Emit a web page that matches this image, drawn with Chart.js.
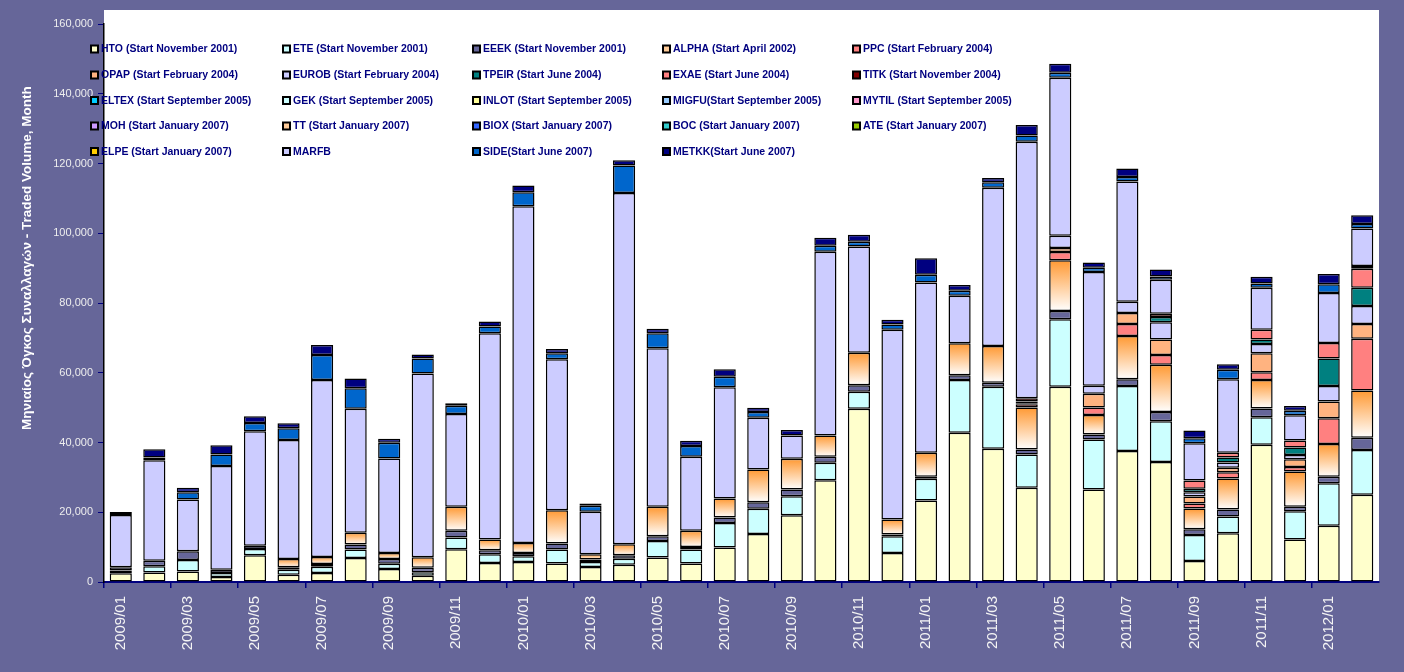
<!DOCTYPE html>
<html>
<head>
<meta charset="utf-8">
<title>Monthly traded volume</title>
<script src="https://cdn.jsdelivr.net/npm/chart.js@4.4.1/dist/chart.umd.min.js"></script>
<style>
  html, body { margin: 0; padding: 0; background: #666699; }
  #wrap { width: 1404px; height: 672px; }
</style>
</head>
<body>
<div id="wrap"><canvas id="volumeChart" width="1404" height="672"></canvas></div>
<script>
// months shown on the x axis (every second one gets a label)
const months = [
  "2009/01", "2009/02", "2009/03", "2009/04", "2009/05", "2009/06", "2009/07", "2009/08", "2009/09", "2009/10",
  "2009/11", "2009/12", "2010/01", "2010/02", "2010/03", "2010/04", "2010/05", "2010/06", "2010/07", "2010/08",
  "2010/09", "2010/10", "2010/11", "2010/12", "2011/01", "2011/02", "2011/03", "2011/04", "2011/05", "2011/06",
  "2011/07", "2011/08", "2011/09", "2011/10", "2011/11", "2011/12", "2012/01", "2012/02"
];

const yTicks = [0, 20000, 40000, 60000, 80000, 100000, 120000, 140000, 160000];
const yAxisTitle = "Μηνιαίος Όγκος Συναλλαγών - Traded Volume, Monthly";

// monthly volumes per underlying, bottom of the stack first
const HTO = [
  2500, 2700, 3000, 1440, 7650, 2100, 2590, 6900, 3730, 1800,
  9400, 5460, 5745, 5270, 4310, 4980, 6990, 5270, 9860, 13790,
  19150, 29200, 49690, 8330, 23360, 42800, 38200, 27000, 56010, 26500,
  37580, 34420, 6030, 13950, 39360, 12160, 16120, 25020
];
const ETE = [
  800, 1800, 3300, 1150, 1800, 1440, 1800, 2400, 1530, 1000,
  3350, 2490, 1630, 4020, 1440, 1720, 4790, 4020, 7090, 7180,
  5460, 4980, 4880, 4790, 6220, 15130, 17810, 9575, 19340, 14340,
  18590, 11670, 7420, 4850, 7910, 8110, 12160, 12860
];
const EEEK = [
  900, 1600, 2500, 950, 950, 670, 770, 1440, 1340, 1300,
  1915, 1150, 960, 1720, 670, 960, 1340, 770, 1530, 1915,
  1915, 1720, 1820, 480, 575, 1340, 1150, 1440, 2390, 1480,
  1980, 2670, 1680, 1980, 2470, 1290, 1880, 3460
];
const ALPHA = [
  0, 0, 0, 0, 0, 2400, 2000, 3350, 1720, 3000,
  6890, 3060, 2870, 9575, 1530, 3160, 8430, 4600, 5460, 9380,
  8810, 6130, 9380, 4310, 6890, 9190, 10530, 12000, 14500, 5540,
  12360, 13550, 5930, 8900, 8210, 10090, 9400, 13550
];
const PPC = [
  0, 0, 0, 0, 0, 0, 0, 0, 0, 0,
  0, 0, 0, 0, 0, 0, 0, 0, 0, 0,
  0, 0, 0, 0, 0, 0, 0, 960, 2390, 2180,
  3460, 2770, 1480, 1780, 2180, 1290, 7420, 14840
];
const OPAP = [
  0, 0, 0, 0, 0, 0, 0, 0, 0, 0,
  0, 0, 0, 0, 0, 0, 0, 0, 0, 0,
  0, 0, 0, 0, 0, 0, 0, 300, 1150, 3960,
  3160, 4450, 1980, 1290, 5440, 2270, 4750, 4250
];
const EUROB = [
  0, 0, 0, 0, 0, 0, 0, 0, 0, 0,
  0, 0, 0, 0, 0, 0, 0, 0, 0, 0,
  0, 0, 0, 0, 0, 0, 0, 0, 3500, 2270,
  3260, 4950, 1190, 1480, 2670, 1190, 4450, 5140
];
const TPEIR = [
  0, 0, 0, 0, 0, 0, 0, 0, 0, 0,
  0, 0, 0, 0, 0, 0, 0, 0, 0, 0,
  0, 0, 0, 0, 0, 0, 0, 0, 0, 0,
  0, 1480, 1000, 1480, 1290, 2180, 7910, 5240
];
const EXAE = [
  0, 0, 0, 0, 0, 0, 0, 0, 0, 0,
  0, 0, 0, 0, 0, 0, 0, 0, 0, 0,
  0, 0, 0, 0, 0, 0, 0, 500, 0, 0,
  0, 990, 2370, 1385, 2770, 1980, 4450, 5440
];
const TITK = [
  0, 0, 0, 0, 0, 0, 0, 0, 0, 0,
  0, 0, 0, 0, 0, 0, 0, 0, 0, 0,
  0, 0, 0, 0, 0, 0, 0, 900, 0, 0,
  0, 0, 0, 0, 0, 0, 0, 790
];
// no visible volume in this period
const ELTEX = [];
const GEK = [];
const INLOT = [];
const MIGFU = [];
const MYTIL = [];
const MOH = [];
const TT = [];
const BIOX = [];
const BOC = [];
const ATE = [];
const ELPE = [];
const MARFB = [
  15000, 28800, 14850, 29700, 32800, 34100, 50750, 35620, 27100, 52660,
  26620, 59170, 96520, 43280, 12160, 100730, 45480, 21260, 31880, 14840,
  6700, 52660, 30450, 54390, 48830, 13600, 45390, 73540, 45300, 32640,
  34420, 9690, 10680, 21070, 12070, 7220, 14340, 10780
];
const SIDE = [
  0, 800, 2100, 3350, 2400, 3350, 7180, 5840, 4500, 4300,
  2390, 1915, 4020, 1720, 1720, 7850, 4310, 3060, 3060, 1630,
  0, 1720, 1340, 1530, 2200, 1440, 1530, 1820, 1440, 1190,
  1290, 990, 1480, 2670, 1190, 1290, 2470, 1290
];
const METKK = [
  900, 2400, 1250, 2600, 1900, 1440, 2870, 2780, 1150, 1150,
  670, 1440, 1915, 1245, 670, 1530, 1245, 1530, 2100, 1245,
  1530, 2300, 2010, 1340, 4790, 1630, 1245, 2970, 2590, 1480,
  2470, 1980, 2180, 1580, 1980, 1385, 2970, 2470
];

const seriesNames = [
  "HTO (Start November 2001)", "ETE (Start November 2001)", "EEEK (Start November 2001)", "ALPHA (Start April 2002)", "PPC (Start February 2004)",
  "OPAP (Start February 2004)", "EUROB (Start February 2004)", "TPEIR (Start June 2004)", "EXAE (Start June 2004)", "TITK (Start November 2004)",
  "ELTEX (Start September 2005)", "GEK (Start September 2005)", "INLOT (Start September 2005)", "MIGFU(Start September 2005)", "MYTIL (Start September 2005)",
  "MOH (Start January 2007)", "TT (Start January 2007)", "BIOX (Start January 2007)", "BOC (Start January 2007)", "ATE (Start January 2007)",
  "ELPE (Start January 2007)", "MARFB", "SIDE(Start June 2007)", "METKK(Start June 2007)"
];
const seriesData = [
  HTO, ETE, EEEK, ALPHA, PPC,
  OPAP, EUROB, TPEIR, EXAE, TITK,
  ELTEX, GEK, INLOT, MIGFU, MYTIL,
  MOH, TT, BIOX, BOC, ATE,
  ELPE, MARFB, SIDE, METKK
];
const seriesColors = [
  "#FFFFCC", "#CCFFFF", "#666699", "#FFCC99", "#FF8080",
  "#FFB380", "#CCCCFF", "#008080", "#FF8080", "#800000",
  "#00CCFF", "#CCFFFF", "#FFFF99", "#99CCFF", "#FF99CC",
  "#CC99FF", "#FFCC99", "#3366FF", "#33CCCC", "#99CC00",
  "#FFCC00", "#CCCCFF", "#0066CC", "#000080"
];

// ALPHA is drawn with an orange-to-white fade, like the original
function alphaFill(context) {
  const chart = context.chart;
  const i = context.dataIndex;
  const y = chart.scales && chart.scales.y;
  if (!chart.chartArea || !y || i === undefined) return "#FF9933";
  const base = HTO[i] + ETE[i] + EEEK[i];
  const top = y.getPixelForValue(base + ALPHA[i]);
  const bottom = y.getPixelForValue(base);
  if (!(bottom - top > 1)) return "#FF9933";
  const g = chart.ctx.createLinearGradient(0, top, 0, bottom);
  g.addColorStop(0, "#FF9933");
  g.addColorStop(1, "#FFFFFF");
  return g;
}

const plotBackground = {
  id: "plotBackground",
  beforeDraw(chart) {
    const { ctx, chartArea } = chart;
    ctx.save();
    ctx.fillStyle = "#666699";
    ctx.fillRect(0, 0, chart.width, chart.height);
    ctx.fillStyle = "#FFFFFF";
    ctx.fillRect(chartArea.left, 10, chartArea.right - chartArea.left, chartArea.bottom - 10);
    ctx.restore();
  }
};

const legendColX = [90, 282, 472, 662, 852];
const legendRowY = [49, 75, 100.5, 126, 151.5];

const gridLegend = {
  id: "gridLegend",
  afterDatasetsDraw(chart) {
    const ctx = chart.ctx;
    ctx.save();
    ctx.font = "bold 10.5px 'Liberation Sans', Arial, sans-serif";
    ctx.textBaseline = "middle";
    ctx.textAlign = "left";
    seriesNames.forEach((name, i) => {
      const x = legendColX[i % 5];
      const y = legendRowY[Math.floor(i / 5)];
      ctx.fillStyle = "#000000";
      ctx.fillRect(x, y - 4.5, 9, 9);
      ctx.fillStyle = seriesColors[i];
      ctx.fillRect(x + 2, y - 2.5, 5, 5);
      ctx.fillStyle = "#000080";
      ctx.fillText(name, x + 11, y + 0.5);
    });
    ctx.restore();
  }
};

const yTitle = {
  id: "yTitle",
  afterDraw(chart) {
    const ctx = chart.ctx;
    ctx.save();
    ctx.beginPath();
    ctx.rect(0, 86, 60, 520);
    ctx.clip();
    ctx.translate(27, 430);
    ctx.rotate(-Math.PI / 2);
    ctx.fillStyle = "#FFFFFF";
    ctx.font = "bold 13.5px 'Liberation Sans Narrow', 'Liberation Sans', Arial, sans-serif";
    ctx.textAlign = "left";
    ctx.textBaseline = "middle";
    ctx.fillText(yAxisTitle, 0, 0);
    ctx.restore();
  }
};

const datasets = seriesData.map((data, i) => ({
  label: seriesNames[i],
  data: data,
  backgroundColor: i === 3 ? alphaFill : seriesColors[i],
  borderColor: "#000000",
  borderWidth: 1.5,
  borderSkipped: false,
  barPercentage: 0.66,
  categoryPercentage: 1,
  stack: "volume"
}));

new Chart(document.getElementById("volumeChart"), {
  type: "bar",
  data: { labels: months, datasets: datasets },
  plugins: [plotBackground, gridLegend, yTitle],
  options: {
    responsive: false,
    animation: false,
    devicePixelRatio: 1,
    layout: { padding: { top: 24, right: 25, left: 0, bottom: 0 } },
    plugins: {
      legend: { display: false },
      tooltip: { enabled: false }
    },
    scales: {
      x: {
        stacked: true,
        afterFit: (scale) => { scale.height = 90; },
        grid: {
          offset: true,
          drawOnChartArea: false,
          tickLength: 6,
          tickColor: (ctx) => (ctx.index % 2 === 0 ? "#000080" : "rgba(0,0,0,0)"),
          lineWidth: 1.5
        },
        border: { color: "#000080", width: 2 },
        ticks: {
          autoSkip: false,
          minRotation: 90,
          maxRotation: 90,
          padding: 8,
          color: "#F4F4F4",
          font: { size: 15, family: "'Liberation Sans', Arial, sans-serif" },
          callback: function (value, index) {
            return index % 2 === 0 ? months[index] : "";
          }
        }
      },
      y: {
        stacked: true,
        min: yTicks[0],
        max: yTicks[yTicks.length - 1],
        afterFit: (scale) => { scale.width = 104; },
        afterBuildTicks: (scale) => { scale.ticks = yTicks.map(v => ({ value: v })); },
        grid: {
          drawOnChartArea: false,
          tickLength: 6,
          tickColor: "#000080",
          color: "#000080"
        },
        border: { color: "#000000", width: 1.5 },
        ticks: {
          padding: 5,
          color: "#EEEEEE",
          font: { size: 11, family: "'Liberation Sans', Arial, sans-serif" },
          callback: (v) => v.toLocaleString("en-US")
        }
      }
    }
  }
});
</script>
</body>
</html>
